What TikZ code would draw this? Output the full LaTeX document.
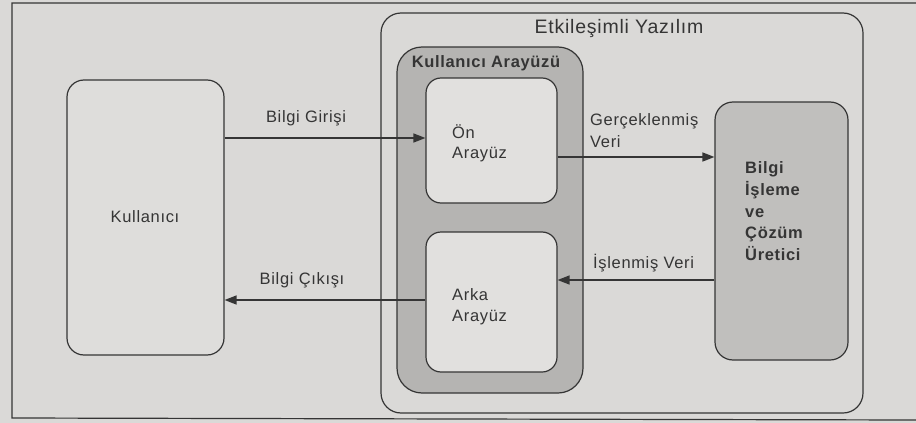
\documentclass[tikz,border=0pt]{standalone}
\usepackage{fontspec}
\setmainfont{Liberation Sans}[LetterSpace=4]
\usetikzlibrary{arrows.meta}
\definecolor{pagebg}{HTML}{DAD9D7}
\definecolor{userfill}{HTML}{DEDDDB}
\definecolor{uifill}{HTML}{B5B4B2}
\definecolor{innerfill}{HTML}{E1E0DE}
\definecolor{procfill}{HTML}{C0BFBD}
\definecolor{ink}{HTML}{353535}
\tikzset{
  box/.style={draw=ink, line width=1.2pt, rectangle, inner sep=0pt},
  arr/.style={draw=ink, line width=1.6pt, -{Triangle[length=12pt,width=9pt]}},
  lbl/.style={text=ink, font=\fontsize{16.5}{22}\selectfont, inner sep=0pt},
  blbl/.style={text=ink, font=\fontsize{16.5}{22}\selectfont\bfseries, inner sep=0pt},
}
\begin{document}
\begin{tikzpicture}[x=1pt,y=-1pt]
\useasboundingbox (0,0) rectangle (916,423);
\fill[pagebg] (0,0) rectangle (916,423);
% outer frame
\draw[ink, line width=1.2pt] (916,3) -- (12,3) -- (12,418) -- (916,420);
% boxes
\node[box, fill=userfill, rounded corners=17pt, minimum width=157pt, minimum height=275pt] (user) at (145.5,217.5) {};
\node[box, fill=pagebg, rounded corners=20pt, minimum width=482pt, minimum height=400pt] (soft) at (622,213) {};
\node[box, fill=uifill, rounded corners=25pt, minimum width=186pt, minimum height=346pt] (ui) at (490,220) {};
\node[box, fill=innerfill, rounded corners=15pt, minimum width=131pt, minimum height=125pt] (front) at (491.5,140.5) {};
\node[box, fill=innerfill, rounded corners=15pt, minimum width=131pt, minimum height=140pt] (back) at (491.5,302) {};
\node[box, fill=procfill, rounded corners=18pt, minimum width=133pt, minimum height=258pt] (proc) at (781.5,231) {};
% texts
\node[lbl, font=\fontsize{19.5}{24}\selectfont, anchor=base] (tsoft) at (619,33) {Etkileşimli Yazılım};
\node[blbl, anchor=base] (tui) at (486,67) {Kullanıcı Arayüzü};
\node[lbl, anchor=base] (tuser) at (145,222) {Kullanıcı};
\node[lbl, anchor=base west] (tfront1) at (452,138) {Ön};
\node[lbl, anchor=base west] (tfront2) at (452,158) {Arayüz};
\node[lbl, anchor=base west] (tback1) at (452,300) {Arka};
\node[lbl, anchor=base west] (tback2) at (452,321) {Arayüz};
\node[blbl, anchor=base west] (tp1) at (745,173) {Bilgi};
\node[blbl, anchor=base west] (tp2) at (745,195) {İşleme};
\node[blbl, anchor=base west] (tp3) at (745,217) {ve};
\node[blbl, anchor=base west] (tp4) at (745,238) {Çözüm};
\node[blbl, anchor=base west] (tp5) at (745,260) {Üretici};
% connector coordinates
\coordinate (y1) at (0,138);
\coordinate (y2) at (0,157);
\coordinate (y3) at (0,280);
\coordinate (y4) at (0,300);
\draw[arr] (user.east |- y1) -- (front.west |- y1);
\draw[arr] (front.east |- y2) -- (proc.west |- y2);
\draw[arr] (proc.west |- y3) -- (back.east |- y3);
\draw[arr] (back.west |- y4) -- (user.east |- y4);
% connector labels
\node[lbl, anchor=base] (l1) at (306,122) {Bilgi Girişi};
\node[lbl, anchor=base west] (l2a) at (590,125) {Gerçeklenmiş};
\node[lbl, anchor=base west] (l2b) at (590,147) {Veri};
\node[lbl, anchor=base west] (l3) at (593,268) {İşlenmiş Veri};
\node[lbl, anchor=base] (l4) at (302,284) {Bilgi Çıkışı};
\end{tikzpicture}
\end{document}
